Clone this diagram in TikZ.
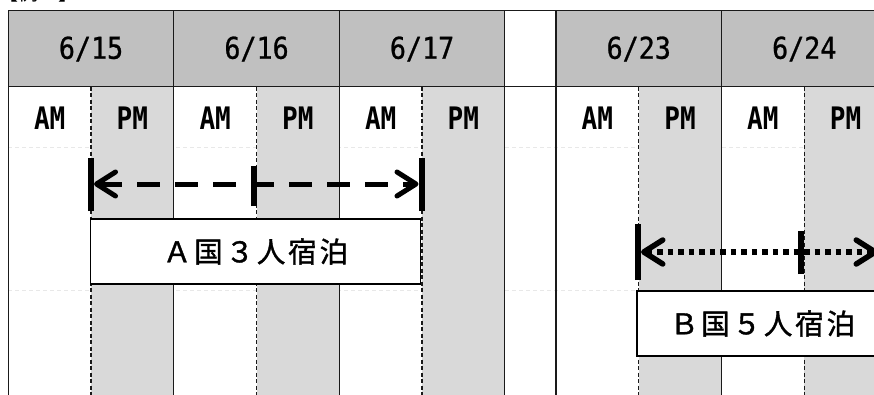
\documentclass[tikz,border=0pt]{standalone}
\usepackage{fontspec}
\usetikzlibrary{arrows.meta}
\newfontfamily\jpfont{Noto Sans CJK JP}
\newfontfamily\boxfont[LetterSpace=10,FakeBold=1.3]{Noto Sans CJK JP}
\newfontfamily\datefont[FakeStretch=0.89,FakeBold=0.8]{DejaVu Sans Mono}
\newfontfamily\ampmfont[FakeStretch=0.84]{DejaVu Sans Mono}
\definecolor{hdrgray}{HTML}{C0C0C0}
\definecolor{pmgray}{HTML}{D9D9D9}
\definecolor{faintgray}{HTML}{E8E8E8}
\definecolor{gridline}{HTML}{1A1A1A}
\begin{document}
\begin{tikzpicture}[x=1pt,y=-1pt,
  gridsolid/.style={draw=gridline,line width=1.2pt},
  griddash/.style={draw=gridline,line width=1.2pt,dash pattern=on 4pt off 2.5pt},
  faintline/.style={draw=faintgray,line width=1pt,dash pattern=on 4pt off 3pt},
  datelabel/.style={font=\datefont\fontsize{30}{30}\selectfont,inner sep=0pt},
  ampmlabel/.style={font=\ampmfont\bfseries\fontsize{31}{31}\selectfont,inner sep=0pt},
  stay/.style={draw=black,line width=1.6pt,fill=white,inner sep=0pt,
    minimum height=65pt,font=\boxfont\fontsize{28.5}{28.5}\selectfont},
  endbar/.style={line width=6pt},
  spanA/.style={line width=5pt,dash pattern=on 23pt off 15pt,
    {Straight Barb[length=19pt,width=24pt,round]}-{Straight Barb[length=19pt,width=24pt,round]},
    shorten <=3pt,shorten >=3pt},
  spanB/.style={line width=5.5pt,dash pattern=on 5.5pt off 5pt,
    {Straight Barb[length=19pt,width=24pt,round]}-{Straight Barb[length=19pt,width=24pt,round]},
    shorten <=3.5pt}
]
\useasboundingbox (0,0) rectangle (874,394);
\clip (0,0) rectangle (874,394);
\fill[white] (0,0) rectangle (874,394);

% cut-off title at the top
\node[anchor=base west,font=\jpfont\fontsize{20}{20}\selectfont,inner sep=0pt] (title) at (-2,0.5) {【例２】};

% faint row guides
\draw[faintline] (8.3,147.5) -- (887,147.5);
\draw[faintline] (8.3,290) -- (887,290);

% fills
\foreach \x in {8.3,173.8,339.3,556,721.5} {
  \fill[hdrgray] (\x,10.7) rectangle ++(165.5,76);
  \fill[pmgray] (\x+82.75,86.7) rectangle (\x+165.5,400);
}

% grid
\foreach \x in {8.3,173.8,339.3,504.8,556,721.5,887}
  \draw[gridsolid] (\x,10.7) -- (\x,400);
\draw[gridsolid] (8.3,10.7) -- (887,10.7);
\draw[gridsolid] (8.3,86.7) -- (887,86.7);
\foreach \x in {8.3,173.8,339.3,556,721.5}
  \draw[griddash] (\x+82.75,86.7) -- (\x+82.75,400);

% labels
\foreach \x/\d [count=\i] in {8.3/{6/15},173.8/{6/16},339.3/{6/17},556/{6/23},721.5/{6/24}} {
  \node[datelabel] (date\i) at (\x+82.75,49) {\d};
  \node[ampmlabel] (am\i) at (\x+41.4,118) {AM};
  \node[ampmlabel] (pm\i) at (\x+124.1,118) {PM};
}

% stay boxes
\node[stay,minimum width=330pt] (boxA) at (255.5,251.5) {Ａ国３人宿泊};
\node[stay,minimum width=251pt] (boxB) at (762.5,323.5) {Ｂ国５人宿泊};

% span A
\coordinate (aL) at (91,184);
\coordinate (aM) at (253.5,184);
\coordinate (aR) at (421.5,184);
\draw[spanA] (aL) -- (aR);
\draw[endbar] ([yshift=-27pt]aL) -- ([yshift=26pt]aL);
\draw[endbar] ([yshift=-22pt]aM) -- ([yshift=18pt]aM);
\draw[endbar] ([yshift=-27pt]aR) -- ([yshift=26pt]aR);

% span B
\coordinate (bL) at (637.5,252);
\coordinate (bM) at (801,252);
\coordinate (bR) at (878,252);
\draw[spanB] (bL) -- (bR);
\draw[endbar] ([yshift=-28pt]bL) -- ([yshift=28pt]bL);
\draw[endbar] ([yshift=-22pt]bM) -- ([yshift=21pt]bM);
\end{tikzpicture}
\end{document}
